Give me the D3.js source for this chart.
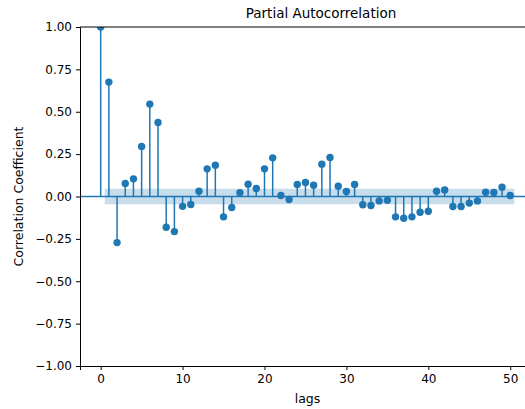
<!DOCTYPE html>
<html>
<head>
<meta charset="utf-8">
<script src="https://cdn.jsdelivr.net/npm/d3@7"></script>
<style>
  body { margin: 0; background: #fff; }
  svg { display: block; font-family: "DejaVu Sans", sans-serif; }
</style>
</head>
<body>
<svg id="chart" width="525" height="409"></svg>
<script>
// partial autocorrelation per lag
const lags = d3.range(0, 51);
const pacf = [1.0, 0.675, -0.272, 0.077, 0.104, 0.295, 0.545, 0.437, -0.181, -0.207,
  -0.058, -0.047, 0.031, 0.163, 0.185, -0.12, -0.065, 0.022, 0.073, 0.047,
  0.163, 0.228, 0.006, -0.018, 0.071, 0.083, 0.067, 0.191, 0.23, 0.061,
  0.03, 0.071, -0.049, -0.053, -0.026, -0.022, -0.12, -0.128, -0.12, -0.093,
  -0.087, 0.031, 0.039, -0.059, -0.059, -0.039, -0.026, 0.025, 0.024, 0.055,
  0.006];
const confBand = 0.046;
const yTicks = [-1, -0.75, -0.5, -0.25, 0, 0.25, 0.5, 0.75, 1];
const xTicks = [0, 10, 20, 30, 40, 50];

const svg = d3.select("#chart");
const margin = {top: 27, left: 80, bottom: 366, right: 535};
const blue = "#1f77b4";

const x = d3.scaleLinear().domain([-2.525, 53.025]).range([margin.left, margin.right]);
const y = d3.scaleLinear().domain([-1, 1]).range([margin.bottom, margin.top]);

svg.append("clipPath").attr("id", "plot-clip")
  .append("rect")
  .attr("x", margin.left).attr("y", margin.top)
  .attr("width", margin.right - margin.left).attr("height", margin.bottom - margin.top);

const plot = svg.append("g").attr("clip-path", "url(#plot-clip)");

// confidence band, from lag 0.5 to 50.5
const bandLags = [0.5, ...lags.slice(2), 50.5];
plot.append("path")
  .datum(bandLags)
  .attr("d", d3.area().x(d => x(d)).y0(y(-confBand)).y1(y(confBand)))
  .attr("fill", blue)
  .attr("fill-opacity", 0.25);

plot.append("line")
  .attr("x1", margin.left).attr("x2", margin.right)
  .attr("y1", y(0)).attr("y2", y(0))
  .attr("stroke", blue).attr("stroke-width", 1.5);

plot.selectAll(".stem")
  .data(lags)
  .enter()
  .append("line")
  .attr("class", "stem")
  .attr("x1", d => x(d)).attr("x2", d => x(d))
  .attr("y1", y(0)).attr("y2", (d, i) => y(pacf[i]))
  .attr("stroke", blue).attr("stroke-width", 1.5);

plot.selectAll(".dot")
  .data(lags)
  .enter()
  .append("circle")
  .attr("class", "dot")
  .attr("cx", d => x(d))
  .attr("cy", (d, i) => y(pacf[i]))
  .attr("r", 3.7)
  .attr("fill", blue);

// axes
const fmt = d => d3.format(".2f")(d).replace("-", "\u2212");
const yAxis = svg.append("g")
  .attr("transform", `translate(${margin.left},0)`)
  .call(d3.axisLeft(y).tickValues(yTicks).tickFormat(fmt).tickSize(4).tickPadding(4));
const xAxis = svg.append("g")
  .attr("transform", `translate(0,${margin.bottom})`)
  .call(d3.axisBottom(x).tickValues(xTicks).tickSize(4).tickPadding(4));

[yAxis, xAxis].forEach(a => {
  a.select(".domain").attr("stroke", "#000").attr("stroke-width", 1);
  a.selectAll(".tick line").attr("stroke", "#000").attr("stroke-width", 1);
  a.selectAll("text").attr("font-size", 12).attr("fill", "#000")
    .attr("font-family", "DejaVu Sans, sans-serif");
});

svg.append("line")
  .attr("x1", margin.left).attr("x2", margin.right)
  .attr("y1", margin.top).attr("y2", margin.top)
  .attr("stroke", "#000").attr("stroke-width", 1);

svg.append("text")
  .attr("x", 321).attr("y", 18)
  .attr("text-anchor", "middle")
  .attr("font-size", 13.5)
  .text("Partial Autocorrelation");

svg.append("text")
  .attr("x", (margin.left + margin.right) / 2).attr("y", 403)
  .attr("text-anchor", "middle")
  .attr("font-size", 12.5)
  .text("lags");

svg.append("text")
  .attr("transform", `translate(23,${(margin.top + margin.bottom) / 2}) rotate(-90)`)
  .attr("text-anchor", "middle")
  .attr("font-size", 12.5)
  .text("Correlation Coefficient");
</script>
</body>
</html>
